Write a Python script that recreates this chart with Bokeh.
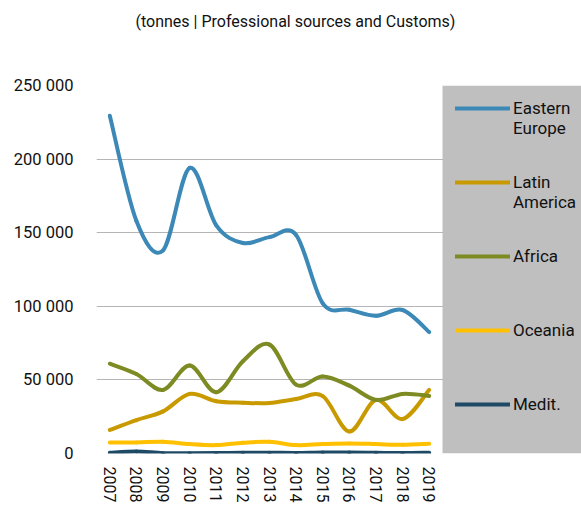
import numpy as np
from bokeh.plotting import figure
from bokeh.models import (ColumnDataSource, Legend, LegendItem, FixedTicker, Range1d,
                          BoxAnnotation)
from bokeh.embed import file_html
from bokeh.resources import INLINE

years = [2007, 2008, 2009, 2010, 2011, 2012, 2013, 2014, 2015, 2016, 2017, 2018, 2019]
year_labels = [str(y) for y in years]

eastern_europe = [229500, 158000, 138000, 194000, 155000, 143000, 147000, 148500, 102000, 97700, 93500, 97500, 82500]
latin_america = [16000, 22700, 28600, 40500, 35500, 34500, 34300, 37000, 39000, 15000, 36400, 23400, 43200]
africa = [61000, 54000, 43200, 59800, 41600, 62700, 74000, 46800, 52300, 46100, 36400, 40500, 39100]
oceania = [7500, 7500, 8000, 6400, 5700, 7300, 8000, 5700, 6400, 6800, 6400, 5900, 6600]
medit = [500, 1400, 200, 200, 300, 500, 500, 400, 700, 700, 500, 300, 500]

series_values = [eastern_europe, latin_america, africa, oceania, medit]
# leading blank line keeps the first text line level with the legend glyph
series_names = ["\nEastern\nEurope", "\nLatin\nAmerica", "Africa", "Oceania", "Medit."]
series_colors = ["#3C89B8", "#C99A00", "#7D8B22", "#FFC000", "#1F4A66"]

y_ticks = [0, 50000, 100000, 150000, 200000, 250000]
y_tick_labels = ["0", "50 000", "100 000", "150 000", "200 000", "250 000"]

title_text = "(tonnes | Professional sources and Customs)"
FONT = "Roboto"

# layout (pixels)
FIG_W, FIG_H = 581, 506
BORDER_L, BORDER_T, BORDER_B = 96, 85, 53
FRAME_W = FIG_W - BORDER_L      # whole frame, including the grey legend panel
DATA_W = 346                    # part of the frame used by the data
x_start = years[0] - 0.5
x_data_end = years[-1] + 0.5
x_end = x_start + (x_data_end - x_start) * FRAME_W / DATA_W


def bezier_source(xs, ys):
    xs = np.asarray(xs, dtype=float)
    ys = np.asarray(ys, dtype=float)
    n = len(xs)
    xp = np.concatenate([[xs[0]], xs, [xs[-1]]])
    yp = np.concatenate([[ys[0]], ys, [ys[-1]]])
    i = np.arange(n - 1)
    # Catmull-Rom control points (smoothed line)
    cx0 = xp[i + 1] + (xp[i + 2] - xp[i]) / 6.0
    cy0 = yp[i + 1] + (yp[i + 2] - yp[i]) / 6.0
    cx1 = xp[i + 2] - (xp[i + 3] - xp[i + 1]) / 6.0
    cy1 = yp[i + 2] - (yp[i + 3] - yp[i + 1]) / 6.0
    return ColumnDataSource(dict(
        x0=xs[:-1], y0=ys[:-1], x1=xs[1:], y1=ys[1:],
        cx0=cx0, cy0=cy0, cx1=cx1, cy1=cy1,
    ))


p = figure(
    width=FIG_W, height=FIG_H,
    output_backend="svg", toolbar_location=None,
    x_range=Range1d(x_start, x_end),
    y_range=Range1d(y_ticks[0], y_ticks[-1]),
    min_border_left=BORDER_L, min_border_right=0,
    min_border_top=BORDER_T, min_border_bottom=BORDER_B,
)
p.outline_line_color = None
p.background_fill_color = "white"
p.border_fill_color = "white"

# title: trailing blank lines lift the text to the top of the chart
p.title.text = title_text + "\n\n"
p.title.align = "left"
p.title.offset = 39
p.title.standoff = 11
p.title.text_font = FONT
p.title.text_font_size = "16px"
p.title.text_font_style = "normal"
p.title.text_line_height = 1.3
p.title.text_color = "#111111"

p.xgrid.grid_line_color = None
p.ygrid.grid_line_color = "#B5B5B5"
p.ygrid.grid_line_width = 1
p.yaxis.ticker = FixedTicker(ticks=y_ticks)
p.yaxis.major_label_overrides = {t: l for t, l in zip(y_ticks, y_tick_labels)}
p.xaxis.ticker = FixedTicker(ticks=years)
p.xaxis.major_label_overrides = {y: l for y, l in zip(years, year_labels)}
p.xaxis.major_label_orientation = "vertical"

for ax in (p.xaxis, p.yaxis):
    ax.axis_line_color = None
    ax.major_tick_line_color = None
    ax.minor_tick_line_color = None
    ax.major_label_text_font = FONT
    ax.major_label_text_color = "#111111"
p.yaxis.major_label_text_font_size = "16.5px"
p.xaxis.major_label_text_font_size = "16px"
p.yaxis.major_label_standoff = 17
p.xaxis.major_label_standoff = 7

# grey legend panel to the right of the data
p.add_layout(BoxAnnotation(left=x_data_end, fill_color="#BFBFBF", fill_alpha=1.0,
                           line_color=None))

items = []
for name, vals, col in zip(series_names, series_values, series_colors):
    src = bezier_source(years, vals)
    r = p.bezier(x0="x0", y0="y0", x1="x1", y1="y1", cx0="cx0", cy0="cy0",
                 cx1="cx1", cy1="cy1", source=src, line_color=col, line_width=4,
                 line_cap="round")
    items.append(LegendItem(label=name, renderers=[r]))

legend = Legend(items=items, location=(359, 13))
legend.background_fill_alpha = 0.0
legend.border_line_color = None
legend.margin = 0
legend.padding = 0
legend.glyph_width = 55
legend.glyph_height = 20
legend.label_standoff = 3
legend.label_height = 73
legend.spacing = 1
legend.label_text_font = FONT
legend.label_text_font_size = "17px"
legend.label_text_color = "#111111"
p.add_layout(legend, "center")

open("out.html", "w").write(file_html(p, INLINE))
